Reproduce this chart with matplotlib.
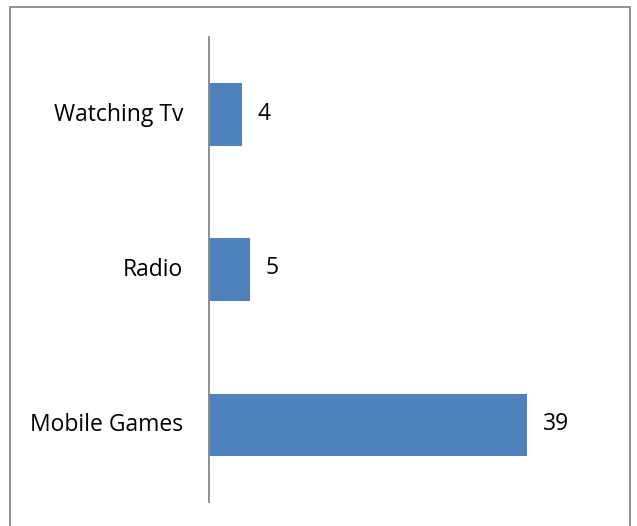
import matplotlib.pyplot as plt
from matplotlib.patches import Rectangle
from matplotlib.transforms import ScaledTranslation

# Activities and counts
categories = ["Mobile Games", "Radio", "Watching Tv"]
counts = [39, 5, 4]

plt.rcParams['font.family'] = ['Open Sans', 'DejaVu Sans']

fig = plt.figure(figsize=(6.37, 5.26), dpi=100)
ax = fig.add_axes([209/637, 24/526, 408/637, 465/526])

bars = ax.barh(range(len(categories)), counts, height=0.4, color="#4F81BD")
ax.set_xlim(0, 50)
ax.set_ylim(-0.5, 2.5)

for i, v in enumerate(counts):
    ax.annotate(str(v), (v, i), xytext=(16, 1), textcoords="offset pixels",
                va="center", ha="left", fontsize=16.5, color="black")

ax.set_yticks(range(len(categories)))
ax.set_yticklabels(categories, fontsize=16.5)
ax.tick_params(axis="y", length=0, pad=18.5)
# nudge category labels up a little
shift = ScaledTranslation(0, 2.5/100, fig.dpi_scale_trans)
for lbl in ax.get_yticklabels():
    lbl.set_transform(lbl.get_transform() + shift)
ax.set_xticks([])
for s in ["top", "right", "bottom"]:
    ax.spines[s].set_visible(False)
ax.spines["left"].set_color("#868686")
ax.spines["left"].set_linewidth(1.3)

# outer chart border
fig.patches.append(Rectangle((10/637, -0.05), 620/637, 1.05 - 7/526,
                             transform=fig.transFigure, fill=False,
                             edgecolor="#878787", linewidth=1.3))

fig.savefig("out.png", dpi=100)
